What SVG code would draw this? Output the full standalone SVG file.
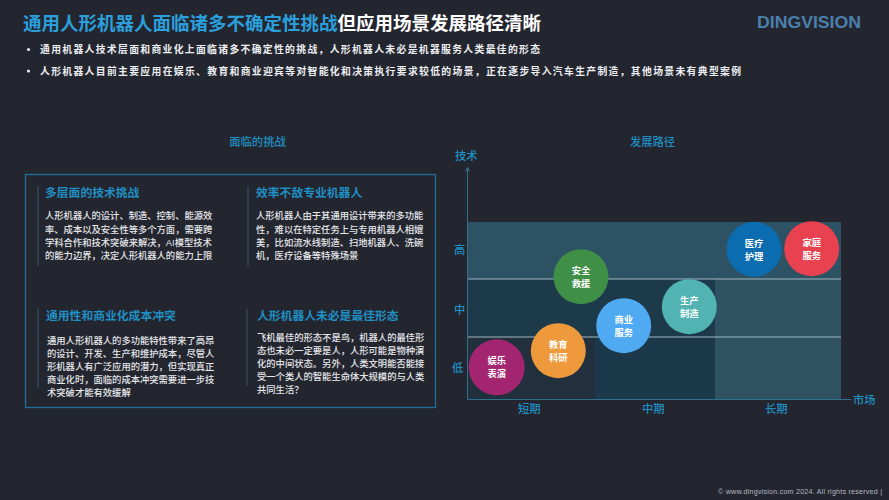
<svg xmlns="http://www.w3.org/2000/svg" width="889" height="500" viewBox="0 0 889 500">
<style>
text{font-family:"Liberation Sans","Noto Sans CJK SC",sans-serif}
.h{font-size:11.8px;font-weight:700;fill:#1f8fc4}
.b{font-size:9.3px;fill:#e6e8ec;font-weight:500}
.t{font-size:9.8px;font-weight:700;fill:#eceef2}
.a{font-size:11.3px;fill:#1f8fc4;font-weight:500}
.c{font-size:9.3px;font-weight:700;fill:#fff;text-anchor:middle}
.bar{stroke:#33475a;stroke-width:1.5}
</style>
<rect width="889" height="500" fill="#24262f"/>
<text x="23" y="30" font-size="18.500" font-weight="700" fill="#2a9fdc">通用人形机器人面临诸多不确定性挑战<tspan fill="#fff">但应用场景发展路径清晰</tspan></text>
<text x="757" y="28" font-size="17" font-weight="700" fill="#4a7fae" textLength="104" lengthAdjust="spacingAndGlyphs">DINGVISION</text>
<circle cx="28.500" cy="49.500" r="1.600" fill="#e6e8ec"/>
<circle cx="28.500" cy="71" r="1.600" fill="#e6e8ec"/>
<text class="t" x="40" y="53" textLength="500">通用机器人技术层面和商业化上面临诸多不确定性的挑战，人形机器人未必是机器服务人类最佳的形态</text>
<text class="t" x="40" y="74.500" textLength="701">人形机器人目前主要应用在娱乐、教育和商业迎宾等对智能化和决策执行要求较低的场景，正在逐步导入汽车生产制造，其他场景未有典型案例</text>
<text x="257.500" y="146" font-size="11.300" font-weight="500" fill="#1f8fc4" text-anchor="middle">面临的挑战</text>
<text x="652.500" y="146" font-size="11.300" font-weight="500" fill="#1f8fc4" text-anchor="middle">发展路径</text>
<g id="challenge-panel">
<rect x="25.500" y="174.500" width="410" height="233" fill="none" stroke="#1f6f98" stroke-width="1.300"/>
</g>
<g id="card-tech">
<line class="bar" x1="38" y1="186" x2="38" y2="266"/>
<text class="h" x="45" y="197">多层面的技术挑战</text>
<text class="b"><tspan x="45" y="219">人形机器人的设计、制造、控制、能源效</tspan><tspan x="45" y="232.500">率、成本以及安全性等多个方面，需要跨</tspan><tspan x="45" y="245.500">学科合作和技术突破来解决，AI模型技术</tspan><tspan x="45" y="259">的能力边界，决定人形机器人的能力上限</tspan></text>
</g>
<g id="card-efficiency">
<line class="bar" x1="248" y1="186" x2="248" y2="266"/>
<text class="h" x="256" y="197">效率不敌专业机器人</text>
<text class="b"><tspan x="256" y="219">人形机器人由于其通用设计带来的多功能</tspan><tspan x="256" y="232.500">性，难以在特定任务上与专用机器人相媲</tspan><tspan x="256" y="245.500">美，比如流水线制造、扫地机器人、洗碗</tspan><tspan x="256" y="259">机，医疗设备等特殊场景</tspan></text>
</g>
<g id="card-cost">
<line class="bar" x1="38" y1="309" x2="38" y2="388"/>
<text class="h" x="46" y="320">通用性和商业化成本冲突</text>
<text class="b"><tspan x="47" y="344">通用人形机器人的多功能特性带来了高昂</tspan><tspan x="47" y="357">的设计、开发、生产和维护成本，尽管人</tspan><tspan x="47" y="370">形机器人有广泛应用的潜力，但实现真正</tspan><tspan x="47" y="383">商业化时，面临的成本冲突需要进一步技</tspan><tspan x="47" y="396">术突破才能有效缓解</tspan></text>
</g>
<g id="card-form">
<line class="bar" x1="247" y1="309" x2="247" y2="386"/>
<text class="h" x="257" y="320">人形机器人未必是最佳形态</text>
<text class="b"><tspan x="257" y="341">飞机最佳的形态不是鸟，机器人的最佳形</tspan><tspan x="257" y="354">态也未必一定要是人，人形可能是物种演</tspan><tspan x="257" y="367">化的中间状态。另外，人类文明能否能接</tspan><tspan x="257" y="380">受一个类人的智能生命体大规模的与人类</tspan><tspan x="257" y="393">共同生活？</tspan></text>
</g>
<g id="chart-bands">
<rect x="468" y="222" width="373" height="57" fill="#2d5263"/>
<rect x="468" y="279" width="247" height="58" fill="#1d3a4b"/>
<rect x="468" y="337" width="127" height="62" fill="#22303e"/>
<rect x="595" y="337" width="120" height="62" fill="#1b394b"/>
<rect x="715" y="279" width="126" height="120" fill="#2e5262"/>
<line x1="468" y1="279" x2="841" y2="279" stroke="#9fb6c0" stroke-width="1.200"/>
<line x1="468" y1="337" x2="841" y2="337" stroke="#9fb6c0" stroke-width="1.200"/>
</g>
<g id="connectors" fill="none" stroke="#2f6f90" stroke-width="1">
<path d="M467.500 399.500V168"/>
<path d="M465.500 171.500L467.500 167.500L469.500 171.500"/>
<path d="M467.500 399.500H851"/>
</g>
<g id="axis-labels">
<text class="a" x="455" y="160">技术</text>
<text class="a" x="454" y="254">高</text>
<text class="a" x="454" y="314">中</text>
<text class="a" x="452" y="372">低</text>
<text class="a" x="518" y="413">短期</text>
<text class="a" x="642" y="413">中期</text>
<text class="a" x="765" y="413">长期</text>
<text class="a" x="853" y="404">市场</text>
</g>
<g id="node-entertainment"><circle cx="496.700" cy="367.300" r="28" fill="#a3246f"/><text class="c" x="496.700" y="364">娱乐</text><text class="c" x="496.700" y="377">表演</text></g>
<g id="node-education"><circle cx="558.300" cy="350.700" r="27.500" fill="#ee9a3c"/><text class="c" x="558.300" y="348">教育</text><text class="c" x="558.300" y="361">科研</text></g>
<g id="node-rescue"><circle cx="581" cy="276.700" r="27.500" fill="#3f8f46"/><text class="c" x="581" y="274">安全</text><text class="c" x="581" y="287">救援</text></g>
<g id="node-commerce"><circle cx="623.700" cy="325.700" r="27.500" fill="#4faaf2"/><text class="c" x="623.700" y="323">商业</text><text class="c" x="623.700" y="336">服务</text></g>
<g id="node-manufacturing"><circle cx="689.300" cy="306.700" r="27.500" fill="#52b3b3"/><text class="c" x="689.300" y="304">生产</text><text class="c" x="689.300" y="317">制造</text></g>
<g id="node-medical"><circle cx="754" cy="249.300" r="27.500" fill="#0b6cb0"/><text class="c" x="754" y="247">医疗</text><text class="c" x="754" y="260">护理</text></g>
<g id="node-home"><circle cx="811.700" cy="248.700" r="27.500" fill="#e8414f"/><text class="c" x="811.700" y="246">家庭</text><text class="c" x="811.700" y="259">服务</text></g>
<text x="718" y="494" font-size="7.100" fill="#b4b8c0" textLength="164">© www.dingvision.com 2024. All rights reserved  |</text>
</svg>
